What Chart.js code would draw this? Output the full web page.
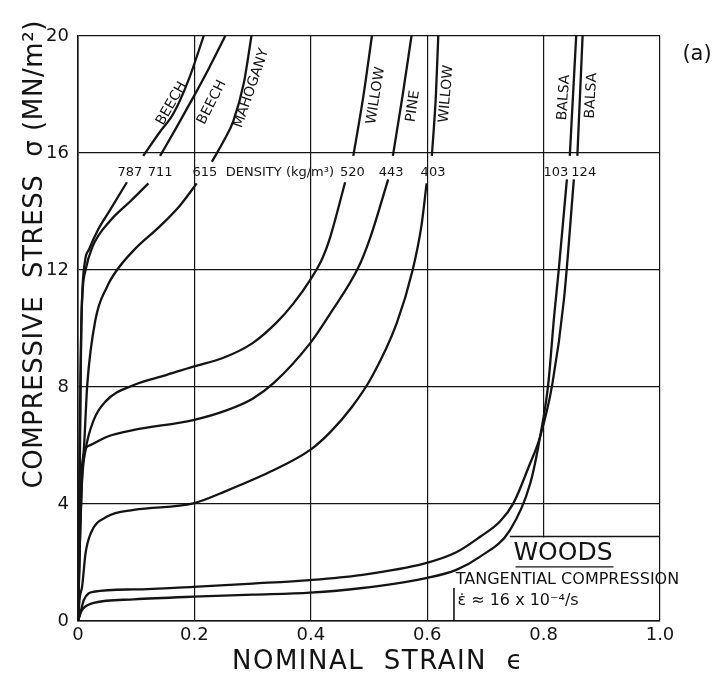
<!DOCTYPE html>
<html>
<head>
<meta charset="utf-8">
<title>Woods - tangential compression</title>
<script src="https://cdn.jsdelivr.net/npm/chart.js@4.4.1/dist/chart.umd.min.js"></script>
<style>
    html, body { margin: 0; padding: 0; background: #fff; }
</style>
</head>
<body>
<canvas id="woodsChart" width="717" height="677"></canvas>
<script>
// tick labels
const xTickLabels = ['0', '0.2', '0.4', '0.6', '0.8', '1.0'];
const yTickLabels = ['0', '4', '8', '12', '16', '20'];

// curves: strain, stress (MN/m2)
// a null stress leaves a break in the line where the density number sits
const beech787Strain = [0, 0.002, 0.004, 0.007, 0.012, 0.019, 0.035, 0.055, 0.084, 0.098, 0.112, 0.14, 0.164, 0.19, 0.216];
const beech787Stress = [0, 4, 8, 11, 12.3, 12.7, 13.4, 14.05, 15.0, null, 15.9, 16.7, 17.35, 18.5, 20];

const beech711Strain = [0, 0.002, 0.004, 0.0055, 0.008, 0.013, 0.025, 0.056, 0.09, 0.121, 0.131, 0.141, 0.17, 0.198, 0.225, 0.253];
const beech711Stress = [0, 3, 7, 9.95, 11.3, 12.0, 12.8, 13.7, 14.35, 14.96, null, 15.9, 16.9, 17.9, 18.9, 20];

const mahogany615Strain = [0, 0.003, 0.006, 0.010, 0.016, 0.030, 0.05, 0.067, 0.096, 0.141, 0.175, 0.204, 0.217, 0.23, 0.25, 0.267, 0.285, 0.298];
const mahogany615Stress = [0, 3, 5, 5.85, 8.1, 10.3, 11.43, 12.0, 12.68, 13.5, 14.2, 14.96, null, 15.7, 16.4, 17.1, 18.4, 20];

const willow520Strain = [0, 0.003, 0.007, 0.013, 0.027, 0.047, 0.096, 0.15, 0.198, 0.25, 0.3, 0.341, 0.37, 0.399, 0.42, 0.433, 0.459, 0.466, 0.473, 0.49, 0.505];
const willow520Stress = [0, 2.5, 4.8, 5.85, 6.87, 7.5, 8.07, 8.4, 8.7, 9.0, 9.5, 10.2, 10.85, 11.66, 12.4, 13.1, 15.0, null, 15.9, 17.9, 20];

const pine443Strain = [0, 0.003, 0.006, 0.01, 0.022, 0.05, 0.096, 0.198, 0.255, 0.3, 0.336, 0.399, 0.433, 0.482, 0.502, 0.533, 0.537, 0.541, 0.558, 0.573];
const pine443Stress = [0, 2.5, 4.5, 5.7, 6.02, 6.3, 6.53, 6.87, 7.2, 7.6, 8.13, 9.5, 10.5, 12.1, 13.1, 15.1, null, 15.9, 18, 20];

const willow403Strain = [0, 0.003, 0.007, 0.013, 0.022, 0.05, 0.096, 0.198, 0.255, 0.33, 0.399, 0.433, 0.47, 0.505, 0.548, 0.575, 0.59, 0.599, 0.604, 0.608, 0.615, 0.619];
const willow403Stress = [0, 0.8, 1.17, 2.32, 3.0, 3.57, 3.8, 4.02, 4.45, 5.1, 5.85, 6.45, 7.3, 8.35, 10.2, 12.0, 13.5, 14.96, null, 15.9, 18, 20];

const balsa103Strain = [0, 0.005, 0.01, 0.027, 0.096, 0.198, 0.3, 0.399, 0.485, 0.596, 0.65, 0.691, 0.742, 0.777, 0.794, 0.808, 0.818, 0.826, 0.84, 0.8425, 0.845, 0.856];
const balsa103Stress = [0, 0.3, 0.45, 0.62, 0.74, 0.83, 0.9, 0.97, 1.12, 1.46, 1.75, 2.2, 3.1, 4.7, 6.3, 8.1, 10.4, 12.0, 15.1, null, 15.9, 20];

const balsa124Strain = [0, 0.005, 0.01, 0.027, 0.096, 0.198, 0.3, 0.399, 0.485, 0.596, 0.65, 0.691, 0.725, 0.748, 0.775, 0.794, 0.815, 0.835, 0.852, 0.855, 0.858, 0.867];
const balsa124Stress = [0, 0.35, 0.72, 1.0, 1.08, 1.17, 1.28, 1.4, 1.57, 1.97, 2.35, 2.88, 3.4, 4.02, 5.3, 6.3, 8.1, 11.0, 15.1, null, 15.9, 20];

const woodNames = ['BEECH', 'BEECH', 'MAHOGANY', 'WILLOW', 'PINE', 'WILLOW', 'BALSA', 'BALSA'];
const densities = ['787', '711', '615', '520', '443', '403', '103', '124'];

const ink = '#141414';
const fontFamily = '"DejaVu Sans", "Liberation Sans", sans-serif';

function pairUp(strain, stress) {
    return strain.map((s, i) => ({ x: s, y: stress[i] }));
}

const curveData = [
    pairUp(beech787Strain, beech787Stress),
    pairUp(beech711Strain, beech711Stress),
    pairUp(mahogany615Strain, mahogany615Stress),
    pairUp(willow520Strain, willow520Stress),
    pairUp(pine443Strain, pine443Stress),
    pairUp(willow403Strain, willow403Stress),
    pairUp(balsa103Strain, balsa103Stress),
    pairUp(balsa124Strain, balsa124Stress)
];

// where the names sit along the curves: [strain, stress, angle deg]
const namePlaces = [
    [0.161, 17.69, -60], [0.230, 17.73, -63], [0.298, 18.21, -71],
    [0.512, 17.96, -81], [0.576, 17.6, -82], [0.633, 18.02, -85],
    [0.835, 17.9, -86], [0.882, 17.96, -87]
];
// density row just under the 16 line
const densityStress = 15.32;
const densityPlaces = [0.089, 0.141, 0.218, 0.4716, 0.538, 0.610, 0.821, 0.869];

const woodsNotes = {
    id: 'woodsNotes',
    beforeDraw(chart) {
        const ctx = chart.ctx;
        ctx.save();
        ctx.fillStyle = '#fff';
        ctx.fillRect(0, 0, chart.width, chart.height);
        ctx.restore();
    },
    beforeDatasetsDraw(chart) {
        // legend box hides the grid underneath it
        const { ctx, scales: { x, y } } = chart;
        ctx.save();
        ctx.fillStyle = '#fff';
        ctx.fillRect(x.getPixelForValue(0.742), y.getPixelForValue(2.89) + 1,
            x.getPixelForValue(1.0) - x.getPixelForValue(0.742) - 2,
            y.getPixelForValue(0) - y.getPixelForValue(2.89) - 2);
        ctx.restore();
    },
    afterDraw(chart) {
        const { ctx, chartArea: area, scales: { x, y } } = chart;
        ctx.save();
        ctx.fillStyle = ink;
        ctx.strokeStyle = ink;

        // names of the woods, rotated along their curves
        ctx.font = '14px ' + fontFamily;
        ctx.textAlign = 'center';
        ctx.textBaseline = 'middle';
        woodNames.forEach((name, i) => {
            const [sx, sy, ang] = namePlaces[i];
            ctx.save();
            ctx.translate(x.getPixelForValue(sx), y.getPixelForValue(sy));
            ctx.rotate(ang * Math.PI / 180);
            ctx.fillText(name, 0, 0);
            ctx.restore();
        });

        // densities
        ctx.font = '13px ' + fontFamily;
        const dy = y.getPixelForValue(densityStress);
        densities.forEach((d, i) => {
            ctx.fillText(d, x.getPixelForValue(densityPlaces[i]), dy);
        });
        ctx.textAlign = 'left';
        ctx.fillText('DENSITY (kg/m\u00B3)', x.getPixelForValue(0.254), dy);

        // legend box
        ctx.lineWidth = 1.6;
        ctx.beginPath();
        ctx.moveTo(x.getPixelForValue(0.742), y.getPixelForValue(2.89));
        ctx.lineTo(x.getPixelForValue(1.0), y.getPixelForValue(2.89));
        ctx.moveTo(x.getPixelForValue(0.646), y.getPixelForValue(1.13));
        ctx.lineTo(x.getPixelForValue(0.646), y.getPixelForValue(0));
        ctx.stroke();

        ctx.textAlign = 'center';
        ctx.font = '25px ' + fontFamily;
        ctx.fillText('WOODS', x.getPixelForValue(0.8333), y.getPixelForValue(2.32));
        ctx.lineWidth = 1.4;
        ctx.beginPath();
        ctx.moveTo(x.getPixelForValue(0.7517), y.getPixelForValue(1.85));
        ctx.lineTo(x.getPixelForValue(0.9201), y.getPixelForValue(1.85));
        ctx.stroke();

        ctx.font = '16px ' + fontFamily;
        ctx.fillText('TANGENTIAL COMPRESSION', x.getPixelForValue(0.841), y.getPixelForValue(1.40));
        ctx.textAlign = 'left';
        ctx.fillText('\u03B5\u0307 \u2248 16 x 10\u207B\u2074/s', x.getPixelForValue(0.652), y.getPixelForValue(0.68));

        // panel letter
        ctx.textAlign = 'center';
        ctx.font = '21px ' + fontFamily;
        ctx.fillText('(a)', x.getPixelForValue(1.0636), y.getPixelForValue(19.35));

        // axis titles
        ctx.font = '26px ' + fontFamily;
        ctx.textAlign = 'left';
        ctx.letterSpacing = '1.5px';
        ctx.fillText('NOMINAL  STRAIN  \u03F5', area.left + 154, area.bottom + 41);

        ctx.save();
        ctx.letterSpacing = '0.6px';
        ctx.translate(area.left - 43, area.top - 16);
        ctx.rotate(-Math.PI / 2);
        ctx.textAlign = 'right';
        ctx.fillText('COMPRESSIVE  STRESS  \u03C3 (MN/m\u00B2)', 0, 0);
        ctx.restore();

        ctx.restore();
    }
};

new Chart(document.getElementById('woodsChart'), {
    type: 'line',
    data: {
        datasets: curveData.map((pts, i) => ({
            label: woodNames[i] + ' ' + densities[i],
            data: pts
        }))
    },
    options: {
        responsive: false,
        animation: false,
        spanGaps: false,
        layout: { padding: { top: 36, right: 57, left: 0, bottom: 0 } },
        plugins: {
            legend: { display: false },
            tooltip: { enabled: false }
        },
        elements: {
            point: { radius: 0 },
            line: { borderColor: ink, borderWidth: 2.3, cubicInterpolationMode: 'monotone', fill: false }
        },
        scales: {
            x: {
                type: 'linear',
                min: 0,
                max: 1,
                afterFit(scale) { scale.height = 56; },
                ticks: {
                    stepSize: 0.2,
                    padding: 4,
                    color: ink,
                    font: { family: fontFamily, size: 18 },
                    callback: (value, index) => xTickLabels[index]
                },
                grid: { color: ink, lineWidth: 1.2, drawTicks: false },
                border: { color: ink, width: 1.6 }
            },
            y: {
                type: 'linear',
                min: 0,
                max: 20,
                afterFit(scale) { scale.width = 78; },
                ticks: {
                    stepSize: 4,
                    padding: 9,
                    color: ink,
                    font: { family: fontFamily, size: 18 },
                    callback: (value, index) => yTickLabels[index]
                },
                grid: { color: ink, lineWidth: 1.2, drawTicks: false },
                border: { color: ink, width: 1.6 }
            }
        }
    },
    plugins: [woodsNotes]
});
</script>
</body>
</html>
